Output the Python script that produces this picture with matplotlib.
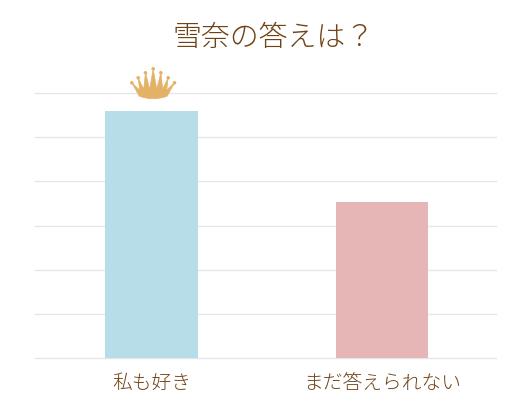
import matplotlib.pyplot as plt
from matplotlib.patches import Circle, PathPatch
from matplotlib.path import Path
from matplotlib.transforms import Affine2D

# chart data
categories = ["私も好き", "まだ答えられない"]
values = [55.9, 35.4]
bar_colors = ["#b7dde8", "#e6b6b7"]
title = "雪奈の答えは？"

brown = "#6f4316"
plt.rcParams['font.family'] = ['Noto Sans CJK JP', 'DejaVu Sans']

fig = plt.figure(figsize=(5.3, 4.17), dpi=100, facecolor="white")
# axes box in pixels: x 34..496, y 93..358
ax = fig.add_axes([34.5 / 530, (417 - 358) / 417, 461.5 / 530, 265 / 417])

ax.bar(range(len(values)), values, width=0.4, color=bar_colors, zorder=3)
ax.set_xlim(-0.507, 1.493)
ax.set_ylim(0, 60)
ax.set_yticks(range(0, 61, 10))
ax.set_yticklabels([])
ax.set_xticks(range(len(categories)))
ax.set_xticklabels(categories, fontsize=14.2, color=brown, fontweight="light")
ax.tick_params(axis="both", length=0)
ax.tick_params(axis="x", pad=11)
ax.grid(axis="y", color="#e6e6e6", linewidth=1, zorder=0, clip_on=False)
for side in ["top", "right", "left", "bottom"]:
    ax.spines[side].set_visible(False)

fig.text(273.5 / 530, 1 - 38 / 417, title, fontsize=20.8, color=brown,
         fontweight="light", ha="center", va="center")

# crown on the top of the winning bar, outline in pixels from the bar top centre
crown_tips = [(-21.3, 28.3), (-15, 33.3), (-7.7, 38.3), (0, 42.3), (7.7, 38.3), (15, 33.3), (21.3, 28.3)]
crown_valleys = [(-13.5, 21), (-9.5, 22), (-3.5, 22), (3.5, 22), (9.5, 22), (13.5, 21)]
verts = [(-14, 15)]
codes = [Path.MOVETO]
for i, tip in enumerate(crown_tips):
    verts.append(tip)
    codes.append(Path.LINETO)
    if i < len(crown_valleys):
        verts.append(crown_valleys[i])
        codes.append(Path.LINETO)
verts += [(14, 15), (0, 9.5), (-14, 15), (-14, 15)]
codes += [Path.LINETO, Path.CURVE3, Path.CURVE3, Path.CLOSEPOLY]

bar_top = ax.transData.transform((0, values[0]))
crown_tf = Affine2D().translate(bar_top[0] + 1.7, bar_top[1])
crown_color = "#e4b266"
fig.add_artist(PathPatch(Path(verts, codes), facecolor=crown_color, edgecolor=crown_color,
                         linewidth=0.5, transform=crown_tf))
for tip in crown_tips:
    fig.add_artist(Circle(tip, 1.8, facecolor=crown_color, edgecolor="none", transform=crown_tf))

fig.savefig("out.png", dpi=100)
